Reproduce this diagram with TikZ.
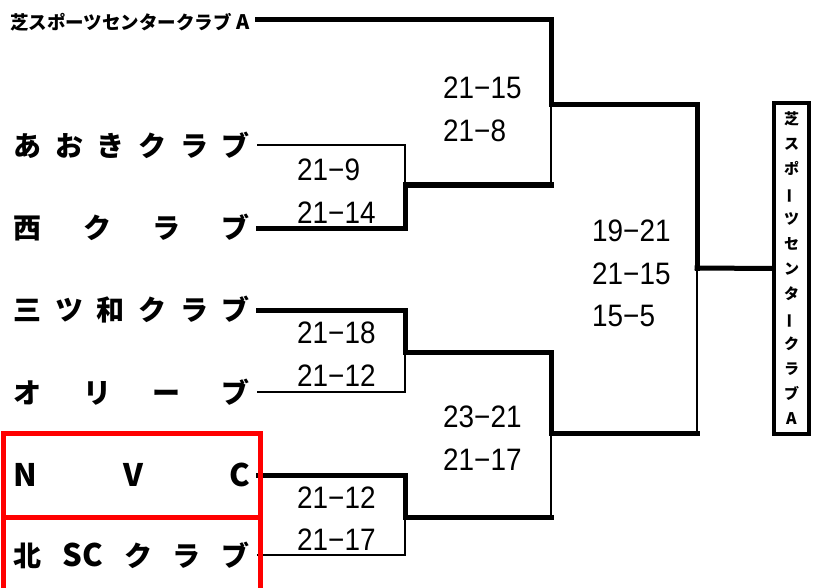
\documentclass[tikz,border=0pt]{standalone}
\usepackage{fontspec}
\setmainfont{Liberation Sans}
\newfontfamily\jp{Noto Sans CJK JP}
\newfontfamily\scorefont{Liberation Sans}[FakeStretch=0.9]
\usetikzlibrary{positioning}
\definecolor{boxred}{HTML}{FF0000}

\newcommand{\spreadname}[1]{\hbox to 236pt{#1}}
\newcommand{\lat}[1]{{\fontsize{31}{31}\selectfont #1}}

\tikzset{
  team/.style={anchor=east, inner sep=0pt, font=\jp\bfseries\fontsize{28}{28}\selectfont},
  score/.style={anchor=west, inner sep=0pt, font=\scorefont\fontsize{31}{31}\selectfont},
  win/.style={line width=5pt, line cap=rect},
  lose/.style={line width=2pt, line cap=rect},
  champbox/.style={draw, line width=4pt, minimum width=35pt, minimum height=331pt,
    inner sep=0pt, align=center, font=\jp\bfseries\fontsize{15}{25}\selectfont},
}

\begin{document}
\begin{tikzpicture}[x=1pt, y=-1pt, node distance=20pt]
  \useasboundingbox (0,0) rectangle (813,588);
  % Define nodes
  \node[anchor=west, inner sep=0pt, font=\jp\bfseries\fontsize{18.5}{18.5}\selectfont]
    (shiba) at (10,22) {芝スポーツセンタークラブ {\fontsize{20}{20}\selectfont A}};
  \node[team] (aoki)    at (250,145) {\spreadname{あ\hfill お\hfill き\hfill ク\hfill ラ\hfill ブ}};
  \node[team] (nishi)   at (250,228) {\spreadname{西\hfill ク\hfill ラ\hfill ブ}};
  \node[team] (mitsuwa) at (250,310) {\spreadname{三\hfill ツ\hfill 和\hfill ク\hfill ラ\hfill ブ}};
  \node[team] (olive)   at (250,392) {\spreadname{オ\hfill リ\hfill ー\hfill ブ}};
  \node[team] (nvc)     at (250,475) {\spreadname{\lat{N}\hfill \lat{V}\hfill \lat{C}}};
  \node[team] (kita)    at (250,555) {\spreadname{北\hfill \lat{SC}\hfill ク\hfill ラ\hfill ブ}};
  \node[champbox] (champ) at (791.5,268.5)
    {芝\\ス\\ポ\\\rotatebox[origin=c]{90}{ー}\\ツ\\セ\\ン\\タ\\\rotatebox[origin=c]{90}{ー}\\ク\\ラ\\ブ\\{\fontsize{16}{16}\selectfont A}};

  \coordinate (m1)  at (405,185);
  \coordinate (m1e) at (551,185);
  \coordinate (m2)  at (405,352);
  \coordinate (m3)  at (405,517);
  \coordinate (m3e) at (551,517);
  \coordinate (s1)  at (551,105);
  \coordinate (s2)  at (551,433);
  \coordinate (s2e) at (697,433);
  \coordinate (f)   at (697,268);

  % scores
  \node[score] (r1a) at (297,170) {21−9};
  \node[score, below=of r1a.south west, anchor=north west] (r1b) {21−14};
  \node[score] (r2a) at (297,333) {21−18};
  \node[score, below=of r2a.south west, anchor=north west] (r2b) {21−12};
  \node[score] (r3a) at (297,498) {21−12};
  \node[score, below=of r3a.south west, anchor=north west] (r3b) {21−17};
  \node[score] (s1a) at (443,88) {21−15};
  \node[score, below=of s1a.south west, anchor=north west] (s1b) {21−8};
  \node[score] (s2a) at (443,417) {23−21};
  \node[score, below=of s2a.south west, anchor=north west] (s2b) {21−17};
  \node[score] (fa) at (592,231) {19−21};
  \node[score, below=of fa.south west, anchor=north west] (fb) {21−15};
  \node[score, below=of fb.south west, anchor=north west] (fc) {15−5};

  % Connect the nodes
  \draw[win, shorten <=8pt] (shiba.east) ++(0,-2) -| (s1);
  \draw[lose, shorten <=8pt] (aoki.east) -| (m1);
  \draw[win, shorten <=8pt] (nishi.east) -| (m1);
  \draw[win] (m1) -- (m1e);
  \draw[lose] (m1e) -- (s1);
  \draw[win] (s1) -| (f);
  \draw[win] (f) -- (champ.west);
  \draw[win, shorten <=8pt] (mitsuwa.east) -| (m2);
  \draw[lose, shorten <=8pt] (olive.east) -| (m2);
  \draw[win] (m2) -| (s2);
  \draw[win, shorten <=8pt] (nvc.east) -| (m3);
  \draw[lose, shorten <=8pt] (kita.east) -| (m3);
  \draw[win] (m3) -- (m3e);
  \draw[lose] (m3e) -- (s2);
  \draw[win] (s2) -- (s2e);
  \draw[lose] (s2e) -- (f);

  % red frames
  \draw[boxred, line width=5pt] (3,433) rectangle (260,517);
  \draw[boxred, line width=5pt] (3,517) rectangle (260,600);
\end{tikzpicture}
\end{document}
